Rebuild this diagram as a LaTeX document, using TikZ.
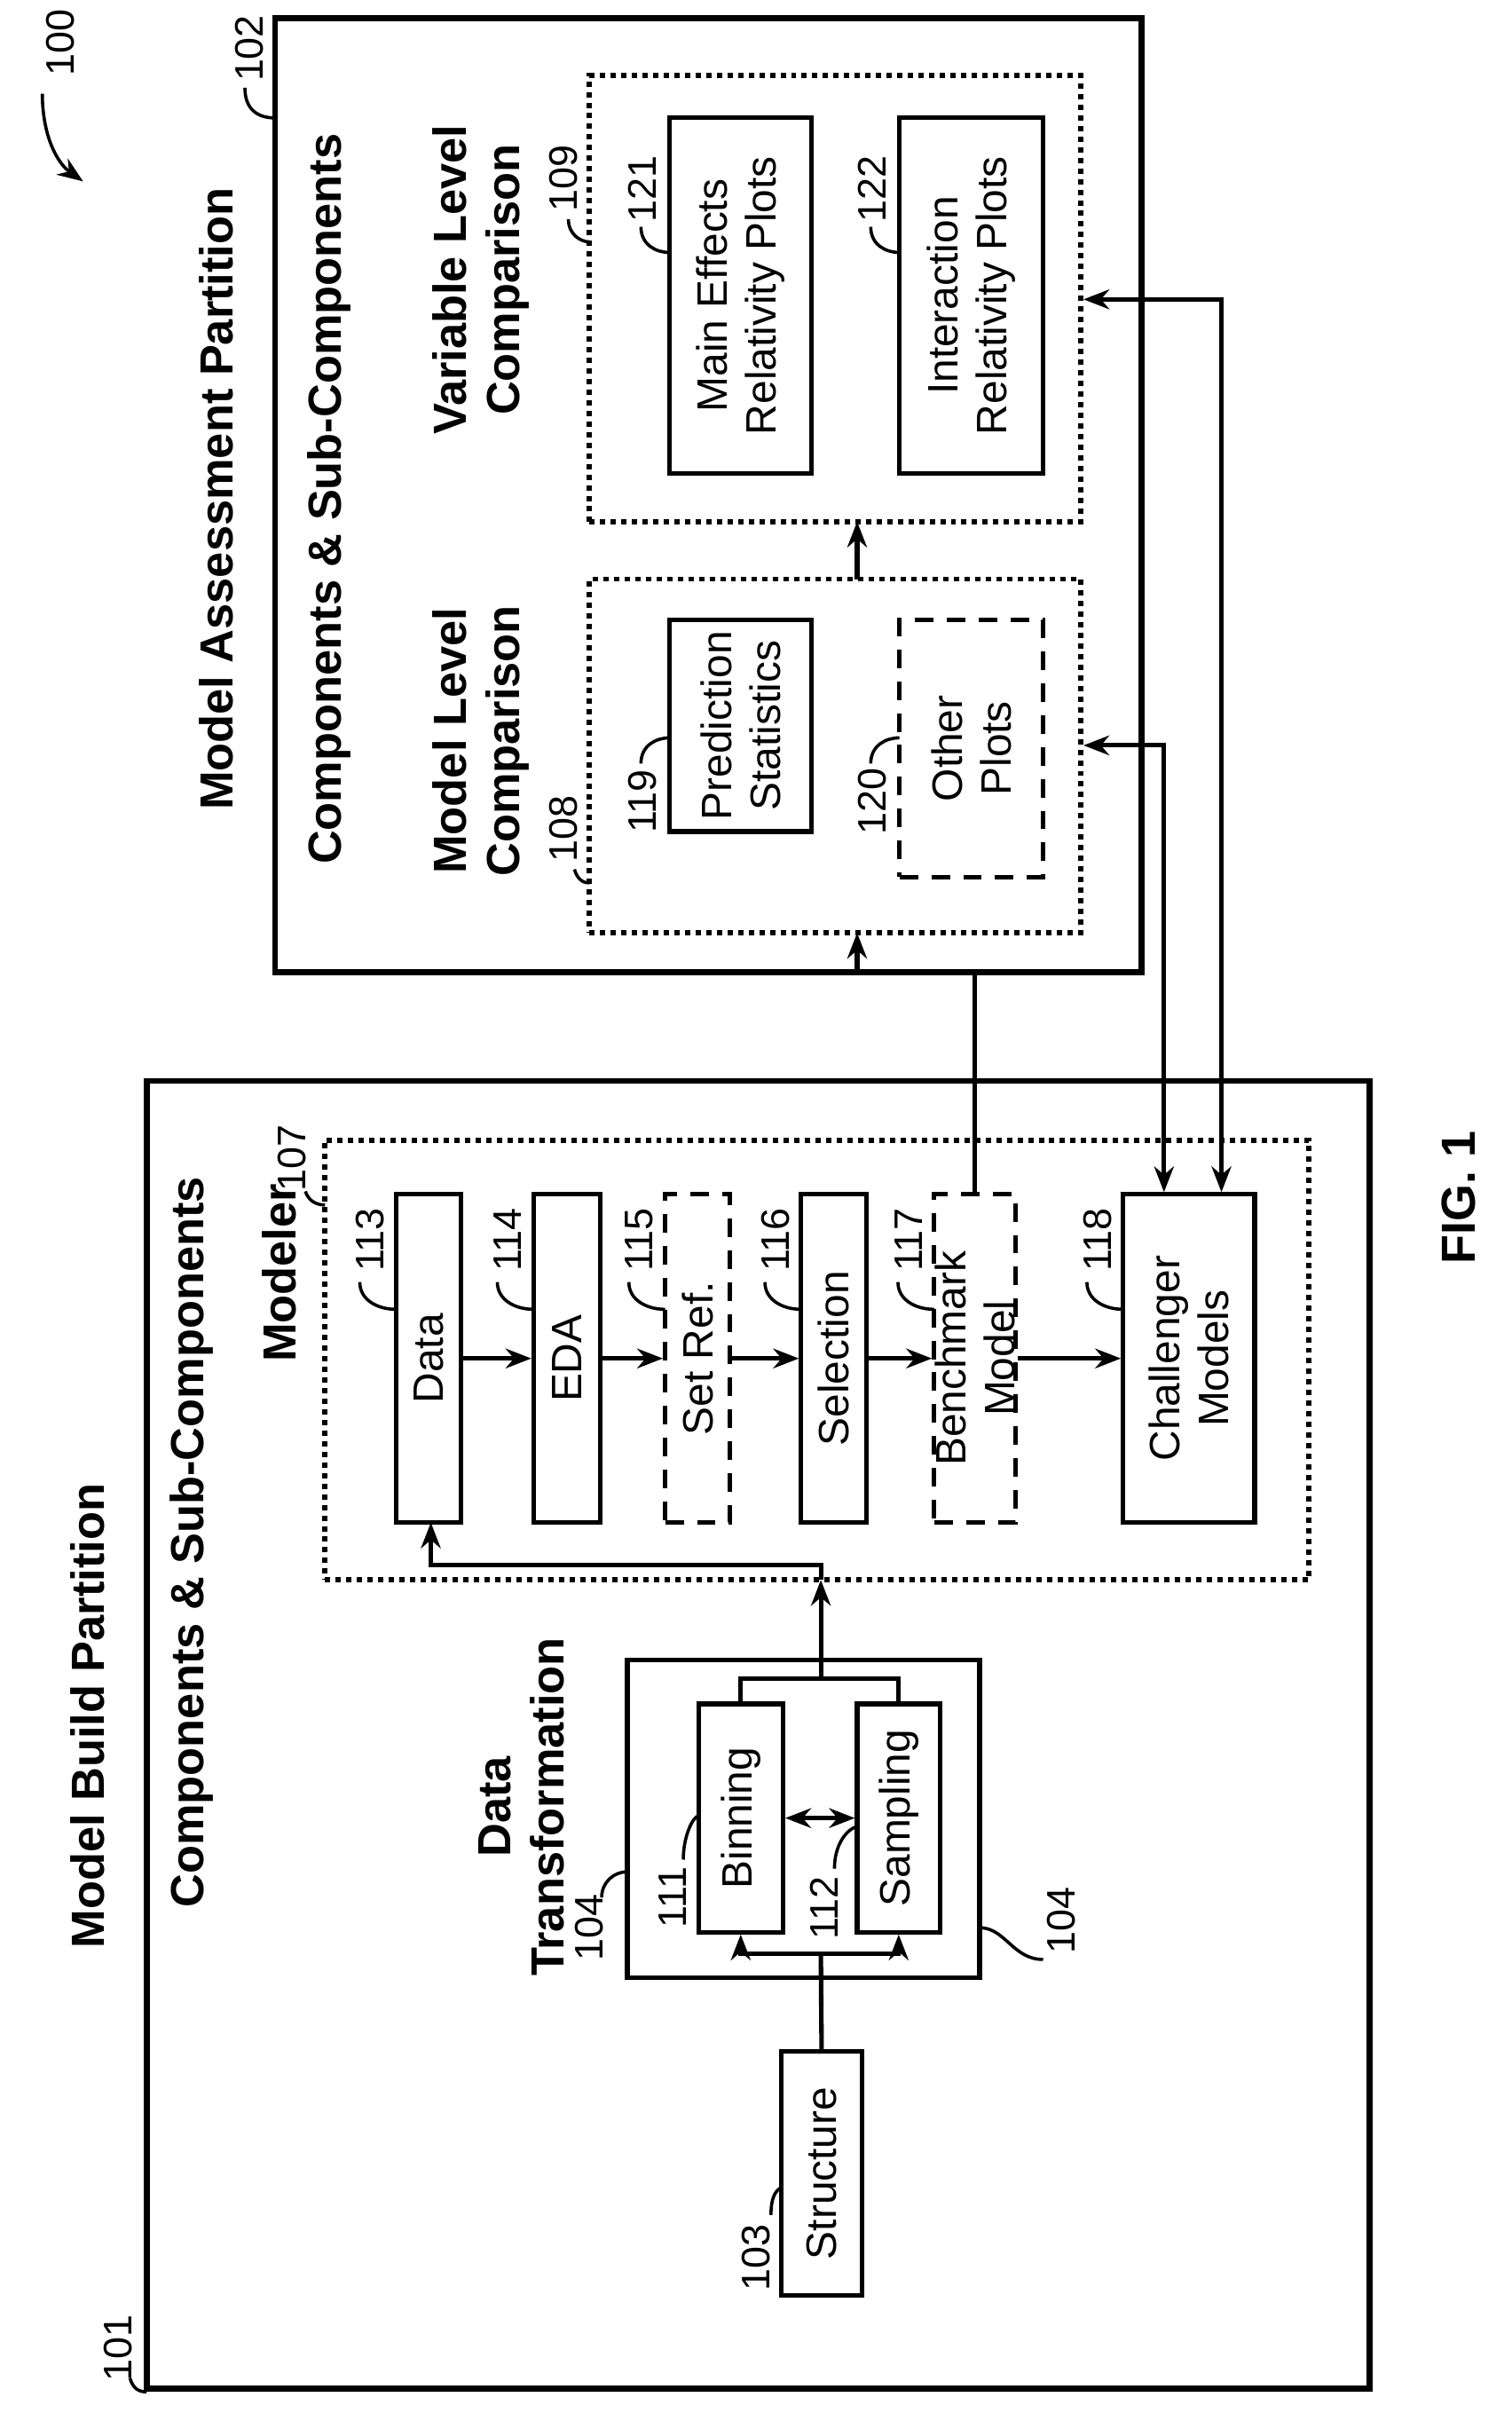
\documentclass[tikz,border=0pt]{standalone}
\usepackage{fontspec}
\setmainfont{Liberation Sans}
\usetikzlibrary{arrows.meta,fit,positioning}
\begin{document}
\begin{tikzpicture}[x=0.02cm,y=-0.02cm,
  every node/.style={font=\fontsize{16}{18.5}\selectfont},
  box/.style={draw,line width=1.7pt,inner sep=0pt},
  dbox/.style={draw,line width=1.7pt,dash pattern=on 7pt off 5pt,inner sep=0pt},
  pbox/.style={draw,line width=2pt,dotted,inner sep=0pt},
  big/.style={font=\bfseries\fontsize{17.5}{20}\selectfont,rotate=90,align=center},
  num/.style={font=\fontsize{15}{17}\selectfont,rotate=90,inner sep=1pt},
  arr/.style={line width=1.7pt,-{Stealth[length=0.34cm,width=0.26cm]}},
  arrb/.style={line width=1.7pt,{Stealth[length=0.34cm,width=0.26cm]}-{Stealth[length=0.34cm,width=0.26cm]}},
  ln/.style={line width=1.7pt},
  ld/.style={line width=1.2pt}]
\useasboundingbox (0,0) rectangle (1000,1596);
\newcommand\bx[7]{\node[#6,fit={(#2,#3)(#4,#5)},label={[rotate=90,align=center]center:#7}] (#1) {};}
% outer boxes
\bx{p101}{97}{715}{906}{1580}{box,line width=2.2pt}{}
\bx{p102}{182}{12}{755}{643}{box,line width=2.2pt}{}
\node[big] (t1) at (58,1135) {Model Build Partition};
\node[big] (t2) at (127,1020) {Components \& Sub-Components};
\node[big] (t3) at (143,330) {Model Assessment Partition};
\node[big] (t4) at (218,330) {Components \& Sub-Components};
\node[num] (n100) at (40,28) {100};
\draw[arr,line width=1.2pt] (28,62) .. controls (28,90) and (38,108) .. (55,120);
\node[num] (n101) at (78,1553) {101};
\draw[ld] (86,1573) .. controls (88,1580) and (92,1582) .. (97,1582);
\node[num] (n102) at (165,32) {102};
\draw[ld] (162,58) .. controls (162,72) and (170,78) .. (182,78);
% data transformation
\bx{st}{517}{1357}{570}{1518}{box}{Structure}
\node[num] (n103) at (500,1493) {103};
\draw[ld] (510,1465) .. controls (510,1452) and (514,1448) .. (517,1447);
\bx{dt}{415}{1098}{648}{1308}{box}{}
\node[big] (tdt) at (345,1195) {Data\\Transformation};
\node[num] (n104a) at (390,1275) {104};
\draw[ld] (398,1255) .. controls (398,1245) and (406,1238) .. (415,1238);
\node[num] (n104b) at (702,1270) {104};
\draw[ld] (648,1275) .. controls (665,1275) and (670,1296) .. (690,1296);
\bx{bin}{462}{1127}{518}{1278}{box}{Binning}
\bx{samp}{567}{1127}{622}{1278}{box}{Sampling}
\node[num] (n111) at (445,1255) {111};
\draw[ld] (452,1230) .. controls (452,1215) and (458,1202) .. (462,1201);
\node[num] (n112) at (545,1262) {112};
\draw[ld] (552,1236) .. controls (552,1220) and (560,1210) .. (567,1208);
\draw[arrb] (bin.east) -- (samp.west);
\coordinate (j1) at (543,1292);
\draw[ln] (st.north) -- (j1);
\draw[arr] (j1) -| (bin.south);
\draw[arr] (j1) -| (samp.south);
\coordinate (j2) at (543,1110);
\draw[ln] (bin.north) |- (j2) -| (samp.north);
% modeler
\bx{mod}{215}{754}{866}{1045}{pbox}{}
\node[big] (tmod) at (185,842) {Modeler};
\node[num] (n107) at (193,766) {107};
\draw[ld] (202,788) .. controls (204,794) and (209,797) .. (215,797);
\coordinate (j3) at (543,1045);
\draw[arr] (j2) -- (j3);
\draw[arr] (j3) -- (543,1035) -| (285,1007);
\bx{data}{262}{790}{305}{1007}{box}{Data}
\bx{eda}{353}{790}{397}{1007}{box}{EDA}
\bx{sref}{440}{790}{483}{1007}{dbox}{Set Ref.}
\bx{sel}{530}{790}{573}{1007}{box}{Selection}
\bx{bm}{618}{790}{672}{1007}{dbox}{Benchmark\\Model}
\bx{ch}{743}{790}{830}{1007}{box}{Challenger\\Models}
\draw[arr] (data.east) -- (eda.west);
\draw[arr] (eda.east) -- (sref.west);
\draw[arr] (sref.east) -- (sel.west);
\draw[arr] (sel.east) -- (bm.west);
\draw[arr] (bm.east) -- (ch.west);
\foreach \n/\x in {113/262,114/353,115/440,116/530,117/618,118/743}{
  \node[num] at (\x-17,820) {\n};
  \draw[ld] (\x-24,848) .. controls (\x-24,860) and (\x-12,866) .. (\x,866);
}
% model assessment
\bx{ml}{390}{383}{715}{617}{pbox}{}
\bx{vl}{390}{50}{715}{345}{pbox}{}
\node[big] (tml) at (318,490) {Model Level\\Comparison};
\node[big] (tvl) at (318,185) {Variable Level\\Comparison};
\node[num] (n108) at (373,548) {108};
\draw[ld] (380,575) .. controls (382,582) and (386,584) .. (390,584);
\node[num] (n109) at (373,118) {109};
\draw[ld] (376,145) .. controls (376,155) and (384,160) .. (390,160);
\bx{ps}{443}{410}{537}{550}{box}{Prediction\\Statistics}
\bx{op}{595}{410}{690}{580}{dbox}{Other\\Plots}
\bx{me}{443}{78}{537}{313}{box}{Main Effects\\Relativity Plots}
\bx{ip}{595}{78}{690}{313}{box}{Interaction\\Relativity Plots}
\node[num] (n119) at (425,530) {119};
\draw[ld] (424,505) .. controls (424,493) and (434,488) .. (443,488);
\node[num] (n120) at (577,530) {120};
\draw[ld] (576,505) .. controls (576,493) and (586,488) .. (595,488);
\node[num] (n121) at (425,125) {121};
\draw[ld] (424,150) .. controls (424,162) and (434,167) .. (443,167);
\node[num] (n122) at (577,125) {122};
\draw[ld] (576,150) .. controls (576,162) and (586,167) .. (595,167);
\draw[arr] (bm.north) |- (567,643) -- (567,617);
\draw[arr] (567,383) -- (567,345);
\coordinate (c1) at (770,493);
\coordinate (c2) at (808,198);
\draw[arrb] (ch.north -| c1) |- (c1 -| ml.east);
\draw[arrb] (ch.north -| c2) |- (c2 -| vl.east);
\node[font=\bfseries\fontsize{18}{20}\selectfont,rotate=90] (fig) at (965,792) {FIG. 1};
\end{tikzpicture}
\end{document}
